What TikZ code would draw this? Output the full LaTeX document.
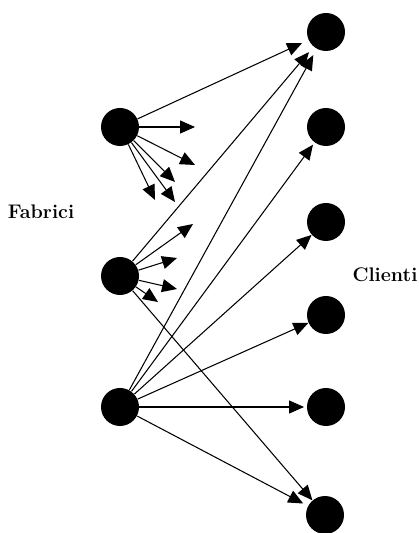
\documentclass[tikz,border=0pt]{standalone}
\usetikzlibrary{arrows.meta}
\begin{document}
\begin{tikzpicture}
			\tikzset{node/.style={circle, fill=black, inner sep=0pt, minimum size=0.76cm}};
			\tikzset{arr/.style={line width=0.6pt, -{Triangle[length=8.5pt,width=7.4pt]}}};
			\tikzset{label/.style={font=\fontsize{11.2}{13}\selectfont\bfseries}};
			\useasboundingbox (0,0) rectangle (8.36,10.66);

			\node[node] (F1) at (2.4,8.12) {};
			\node[node] (F2) at (2.4,5.14) {};
			\node[node] (F3) at (2.4,2.52) {};

			\node[node] (C1) at (6.52,10.02) {};
			\node[node] (C2) at (6.52,8.12) {};
			\node[node] (C3) at (6.52,6.22) {};
			\node[node] (C4) at (6.52,4.36) {};
			\node[node] (C5) at (6.52,2.52) {};
			\node[node] (C6) at (6.50,0.36) {};

			\node[label] (fab) at (0.82,6.42) {Fabrici};
			\node[label] (cli) at (7.7,5.16) {Clienti};

			\coordinate (a1) at (3.9,8.12);
			\coordinate (a2) at (3.9,7.36);
			\coordinate (a3) at (3.5,7.02);
			\coordinate (a4) at (3.1,6.66);
			\coordinate (a5) at (3.5,6.62);

			\coordinate (b1) at (3.86,6.18);
			\coordinate (b2) at (3.54,5.5);
			\coordinate (b3) at (3.54,4.88);
			\coordinate (b4) at (3.16,4.62);

			\draw[arr,black] (F1) -- (a1);
			\draw[arr,black] (F1) -- (a2);
			\draw[arr,black] (F1) -- (a3);
			\draw[arr,black] (F1) -- (a4);
			\draw[arr,black] (F1) -- (a5);

			\draw[arr,black] (F2) -- (b1);
			\draw[arr,black] (F2) -- (b2);
			\draw[arr,black] (F2) -- (b3);
			\draw[arr,black] (F2) -- (b4);

			\draw[arr,black,shorten >=4pt] (F1) -- (C1);
			\draw[arr,black,shorten >=4pt] (F2) -- (C1);
			\draw[arr,black,shorten >=4pt] (F3) -- (C1);
			\draw[arr,black] (F2) -- (C6);

			\draw[arr,black,shorten >=1.5pt] (F3) -- (C2);
			\draw[arr,black] (F3) -- (C3);
			\draw[arr,black] (F3) -- (C4);
			\draw[arr,black,shorten >=1.5pt] (F3) -- (C5);
			\draw[arr,black,shorten >=3pt] (F3) -- (C6);
		\end{tikzpicture}
\end{document}
